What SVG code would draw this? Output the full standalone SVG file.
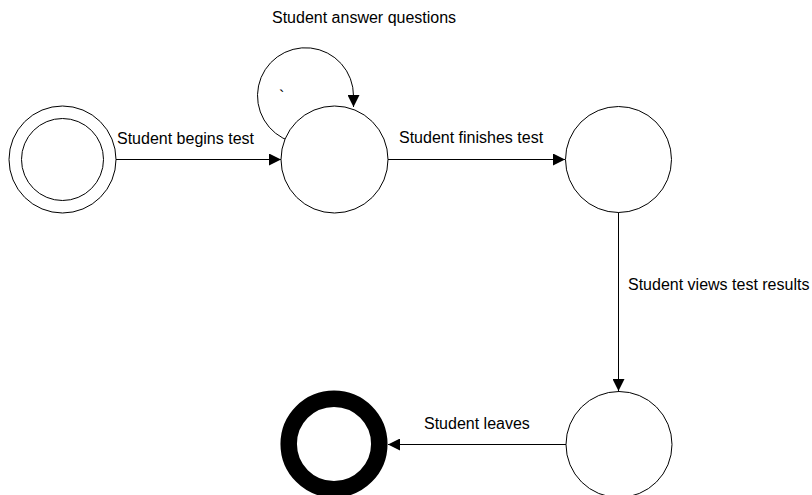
<svg xmlns="http://www.w3.org/2000/svg" width="812" height="495" viewBox="0 0 812 495">
<style>
  .st { fill: #ffffff; stroke: #000000; stroke-width: 1; }
  .edge { fill: none; stroke: #000000; stroke-width: 1; marker-end: url(#arr); }
  .lbl { font-family: "Liberation Sans", Arial, sans-serif; font-size: 16px; fill: #000000; }
</style>
<defs>
  <marker id="arr" markerUnits="userSpaceOnUse" markerWidth="12" markerHeight="12" viewBox="0 0 10 10" refX="10" refY="5" orient="auto">
    <path d="M0,0 L10,5 L0,10 Z" fill="#000000"/>
  </marker>
</defs>
<rect width="812" height="495" fill="#ffffff"/>
<g id="connectors">
  <path class="edge" d="M116,159.5 L281,159.5"/>
  <path class="edge" d="M291,141.5 A48,48 0 1 1 353.5,96 L353.5,107"/>
  <path class="edge" d="M388,159.5 L565,159.5"/>
  <path class="edge" d="M618.5,212 L618.5,391"/>
  <path class="edge" d="M566,444.5 L388,444.5"/>
</g>
<g id="labels">
  <text class="lbl" x="117" y="144">Student begins test</text>
  <text class="lbl" x="272" y="23">Student answer questions</text>
  <text class="lbl" x="279" y="102">`</text>
  <text class="lbl" x="399" y="143">Student finishes test</text>
  <text class="lbl" x="628" y="290">Student views test results</text>
  <text class="lbl" x="424" y="429">Student leaves</text>
</g>
<g id="start">
  <circle class="st" cx="62.5" cy="159.5" r="53.5"/>
  <circle class="st" cx="62.5" cy="159.5" r="41"/>
</g>
<g id="answering">
  <circle class="st" cx="334.5" cy="159.5" r="53.5"/>
</g>
<g id="finished">
  <circle class="st" cx="618.5" cy="159.5" r="53"/>
</g>
<g id="viewing">
  <circle class="st" cx="619" cy="444.5" r="53"/>
</g>
<g id="end">
  <circle cx="334" cy="444" r="45.3" fill="#ffffff" stroke="#000000" stroke-width="16.5"/>
</g>
</svg>
